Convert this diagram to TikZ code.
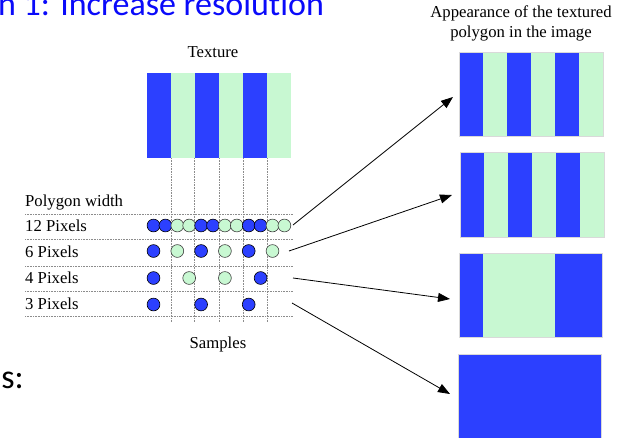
\documentclass[tikz,border=0pt]{standalone}
\usepackage{fontspec}
\setmainfont{Liberation Serif}
\newfontfamily\slidefont[RawFeature=-liga]{Carlito}
\usetikzlibrary{arrows.meta}
\definecolor{stripeblue}{RGB}{44,64,255}
\definecolor{stripegreen}{RGB}{200,248,210}
\definecolor{titleblue}{RGB}{10,10,250}

\begin{document}
\begin{tikzpicture}[x=1pt,y=-1pt,
  lbl/.style={font=\fontsize{16.7}{19}\selectfont, inner sep=0pt},
  slide/.style={font=\slidefont\fontsize{34}{40}\selectfont, inner sep=0pt},
  guide/.style={densely dotted, black!45, line width=0.6pt},
  bsample/.style={circle, draw=black, fill=stripeblue, minimum size=12.8pt, inner sep=0pt, line width=0.6pt},
  gsample/.style={circle, draw=black!75, fill=stripegreen, minimum size=12.8pt, inner sep=0pt, line width=0.6pt},
  frame/.style={draw=black!15, line width=0.5pt},
  link/.style={-{Triangle[length=12pt,width=9pt]}, line width=0.8pt}
]
\clip (0,0) rectangle (626,437);
\fill[white] (0,0) rectangle (626,437);

% slide text around the figure
\node[slide, anchor=base west, text=titleblue] (title) at (-2,15) {n 1: Increase resolution};
\node[slide, anchor=base east] (tail) at (24,388) {ns:};

% texture
\node[lbl, anchor=base] (texlabel) at (213,57) {Texture};
\foreach \i in {0,1,2} {
  \fill[stripeblue] (147+48*\i,73) rectangle ++(24,85);
  \fill[stripegreen] (171+48*\i,73) rectangle ++(24,85);
}

% sample grid
\foreach \x in {171,194.5,219,243,267}
  \draw[guide] (\x,158) -- (\x,322);
\foreach \y in {214.5,239.5,266,291.5,316.5}
  \draw[guide] (25,\y) -- (293,\y);

\node[lbl, anchor=base west] (pw) at (25,206) {Polygon width};
\node[lbl, anchor=base west] (p12) at (25,231.5) {12 Pixels};
\node[lbl, anchor=base west] (p6) at (25,257) {6 Pixels};
\node[lbl, anchor=base west] (p4) at (25,283.5) {4 Pixels};
\node[lbl, anchor=base west] (p3) at (25,309.5) {3 Pixels};
\node[lbl, anchor=base] (samples) at (218,348) {Samples};

% samples per row
\foreach \c [count=\i from 0] in {b,b,g,g,b,b,g,g,b,b,g,g}
  \node[\c sample] (s12-\i) at (153.5+11.9*\i,225.5) {};
\foreach \c [count=\i from 0] in {b,g,b,g,b,g}
  \node[\c sample] (s6-\i) at (153.5+23.8*\i,251) {};
\foreach \c [count=\i from 0] in {b,g,g,b}
  \node[\c sample] (s4-\i) at (153.5+35.7*\i,278) {};
\foreach \c [count=\i from 0] in {b,b,b}
  \node[\c sample] (s3-\i) at (153.5+47.6*\i,304.5) {};

% rendered polygons
\node[lbl, anchor=base] (apptitle1) at (521,17) {Appearance of the textured};
\node[lbl, anchor=base] (apptitle2) at (521,37.5) {polygon in the image};

\foreach \i in {0,1,2} {
  \fill[stripeblue] (459.3+48*\i,52.3) rectangle ++(24,84.4);
  \fill[stripegreen] (483.3+48*\i,52.3) rectangle ++(24,84.4);
}
\draw[frame] (459.3,52.3) rectangle (603.3,136.7);

\foreach \i in {0,1,2} {
  \fill[stripeblue] (460+48*\i,152.7) rectangle ++(24,84.6);
  \fill[stripegreen] (484+48*\i,152.7) rectangle ++(24,84.6);
}
\draw[frame] (460,152.7) rectangle (604,237.3);

\fill[stripeblue] (459.3,253.3) rectangle (483.3,337.7);
\fill[stripegreen] (483.3,253.3) rectangle (555,337.7);
\fill[stripeblue] (555,253.3) rectangle (602.5,337.7);
\draw[frame] (459.3,253.3) rectangle (602.5,337.7);

\fill[stripeblue] (458.3,354) rectangle (601.7,440);
\draw[frame] (458.3,354) rectangle (601.7,440);

% arrows from sample rows to their results
\coordinate (from12) at (293,225);
\coordinate (from6) at (289,251);
\coordinate (from4) at (293,278);
\coordinate (from3) at (292,303);
\coordinate (to1) at (453,97);
\coordinate (to2) at (452,195);
\coordinate (to3) at (450,299);
\coordinate (to4) at (450,394);
\draw[link] (from12) -- (to1);
\draw[link] (from6) -- (to2);
\draw[link] (from4) -- (to3);
\draw[link] (from3) -- (to4);
\end{tikzpicture}
\end{document}
